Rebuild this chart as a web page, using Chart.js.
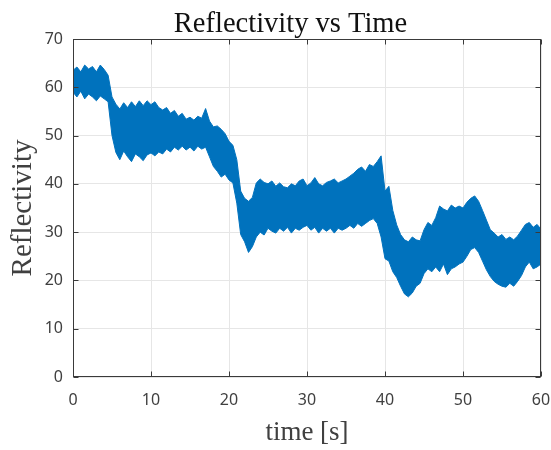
<!DOCTYPE html>
<html><head><meta charset="utf-8">
<script src="https://cdn.jsdelivr.net/npm/chart.js@4.4.1/dist/chart.umd.min.js"></script>
<style>html,body{margin:0;padding:0;background:#fff}#wrap{width:551px;height:450px}</style>
</head><body><div id="wrap"><canvas id="c" width="551" height="450"></canvas></div>
<script>
const titleText = 'Reflectivity vs Time';
const xLabel = 'time [s]';
const yLabel = 'Reflectivity';
const xTicks = [0, 10, 20, 30, 40, 50, 60];
const yTicks = [0, 10, 20, 30, 40, 50, 60, 70];

const time = [
 0,0.5,1,1.5,2,2.5,3,3.5,4,4.5,
 5,5.5,6,6.5,7,7.5,8,8.5,9,9.5,
 10,10.5,11,11.5,12,12.5,13,13.5,14,14.5,
 15,15.5,16,16.5,17,17.5,18,18.5,19,19.5,
 20,20.5,21,21.5,22,22.5,23,23.5,24,24.5,
 25,25.5,26,26.5,27,27.5,28,28.5,29,29.5,
 30,30.5,31,31.5,32,32.5,33,33.5,34,34.5,
 35,35.5,36,36.5,37,37.5,38,38.5,39,39.5,
 40,40.5,41,41.5,42,42.5,43,43.5,44,44.5,
 45,45.5,46,46.5,47,47.5,48,48.5,49,49.5,
 50,50.5,51,51.5,52,52.5,53,53.5,54,54.5,
 55,55.5,56,56.5,57,57.5,58,58.5,59,59.5,60];

const upper = [
 63.5,64.2,63.2,64.6,63.8,64.3,63.2,64.6,63.7,62.5,
 58,56.5,55.5,56.8,55.8,57,56,57.2,56.2,57.2,
 56.4,57,55.8,55.3,55.8,54.6,55.2,54,54.6,53.4,
 53.8,53.2,54,53.6,55.6,53,51.8,52,51.3,50.4,
 48.8,48,45,38.5,37,36.4,37.2,40.2,41,40.3,
 40,40.6,39.5,40.2,39.4,39.2,40,39.6,40.6,41,
 39.6,40.2,41.3,40,39.6,40.3,40.6,41,40.2,40.6,
 41,41.6,42.2,43,43.5,42.6,44,43.6,44.6,45.8,
 38.5,39.5,34.5,31.5,29.5,28.4,28,29,28.4,28.2,
 30.5,32,31.4,33,35.4,34.8,34.4,35.6,35,35.4,
 35,36.2,37,37.5,36.4,34.5,32.5,30.5,29.8,29,
 29.5,28.5,29,28.4,29.2,30.4,31.6,32,31,31.6,30.6];

const lower = [
 59,58,59.2,57.6,58.6,58,57.2,58.2,57.6,57,
 50,46.5,45,46.8,45.6,44.6,46.2,45.6,44.8,46,
 46.4,45.8,46.6,46.2,47.2,46.6,47.6,47,47.8,47,
 47.6,46.8,47.8,47.2,47.6,45.6,43.6,42.6,41.4,42,
 40.8,40.2,36,29.5,28,25.8,27,29,30,29.4,
 30.8,30.2,29.8,30.8,30.2,31,29.8,30.8,30.4,31,
 31.4,30.4,31,29.8,30.8,30.2,30.8,29.8,30.8,30.4,
 30.8,31.4,30.8,31.8,31.2,31.8,32.4,32.8,31.8,29,
 24.5,24,21.8,20.6,18.8,17.2,16.6,17.4,18.8,19.4,
 21.4,22.4,21.8,22.8,21.8,23.4,21.2,22.4,22.8,23.4,
 23.8,25,26.4,26.8,25.8,24,22.2,20.8,19.8,19.2,
 18.8,18.6,19.4,18.8,19.8,21,22.8,23.8,22.4,22.8,23.4];

const blue = '#0072BD';
const toPts = arr => arr.map((v, i) => ({x: time[i], y: v}));

const frame = {
  id: 'frame',
  afterDatasetsDraw(chart) {
    const {ctx, chartArea: ca, scales: {x, y}} = chart;
    const L = Math.round(ca.left) + 0.5, R = Math.round(ca.right) - 0.5;
    const T = Math.round(ca.top) + 0.5, B = Math.round(ca.bottom) - 0.5;
    ctx.save();
    ctx.strokeStyle = '#3a3a3a';
    ctx.lineWidth = 1;
    ctx.beginPath();
    xTicks.forEach(v => {
      const p = Math.round(x.getPixelForValue(v)) + 0.5;
      ctx.moveTo(p, B); ctx.lineTo(p, B - 5);
      ctx.moveTo(p, T); ctx.lineTo(p, T + 5);
    });
    yTicks.forEach(v => {
      const p = Math.round(y.getPixelForValue(v)) + 0.5;
      ctx.moveTo(L, p); ctx.lineTo(L + 5, p);
      ctx.moveTo(R, p); ctx.lineTo(R - 5, p);
    });
    ctx.stroke();
    ctx.strokeRect(L, T, R - L, B - T);
    ctx.restore();
  },
  afterDraw(chart) {
    const ctx = chart.ctx;
    ctx.save();
    ctx.font = '28.5px "Liberation Serif", "Times New Roman", serif';
    ctx.fillStyle = '#111';
    ctx.textAlign = 'center';
    ctx.textBaseline = 'alphabetic';
    ctx.fillText(titleText, 290.5, 32);
    ctx.restore();
  }
};

new Chart(document.getElementById('c'), {
  type: 'line',
  data: {
    datasets: [
      {data: toPts(lower), borderColor: blue, backgroundColor: blue, borderWidth: 1, pointRadius: 0, fill: false, tension: 0},
      {data: toPts(upper), borderColor: blue, backgroundColor: blue, borderWidth: 1, pointRadius: 0, fill: '-1', tension: 0}
    ]
  },
  options: {
    responsive: false,
    animation: false,
    devicePixelRatio: 1,
    layout: {padding: {top: 39, right: 10, left: 0, bottom: 0}},
    plugins: {legend: {display: false}, tooltip: {enabled: false}, title: {display: false}},
    scales: {
      x: {
        type: 'linear', min: 0, max: 60,
        afterFit: s => { s.height = 73; s.paddingLeft = 0; s.paddingRight = 0; },
        afterBuildTicks: s => { s.ticks = xTicks.map(v => ({value: v})); },
        grid: {color: '#e6e6e6', drawTicks: false},
        border: {display: false},
        ticks: {padding: 14, color: '#404040', font: {family: '"Noto Sans", sans-serif', size: 16}},
        title: {display: true, text: xLabel, color: '#404040', padding: {top: 0, bottom: 1}, font: {family: '"Liberation Serif", serif', size: 27}}
      },
      y: {
        min: 0, max: 70,
        afterFit: s => { s.width = 73; s.paddingTop = 0; s.paddingBottom = 0; },
        afterBuildTicks: s => { s.ticks = yTicks.map(v => ({value: v})); },
        grid: {color: '#e6e6e6', drawTicks: false},
        border: {display: false},
        ticks: {padding: 10, color: '#404040', font: {family: '"Noto Sans", sans-serif', size: 16}},
        title: {display: true, text: yLabel, color: '#404040', padding: {top: 6, bottom: 0}, font: {family: '"Liberation Serif", serif', size: 29}}
      }
    }
  },
  plugins: [frame]
});
</script>
</body></html>
